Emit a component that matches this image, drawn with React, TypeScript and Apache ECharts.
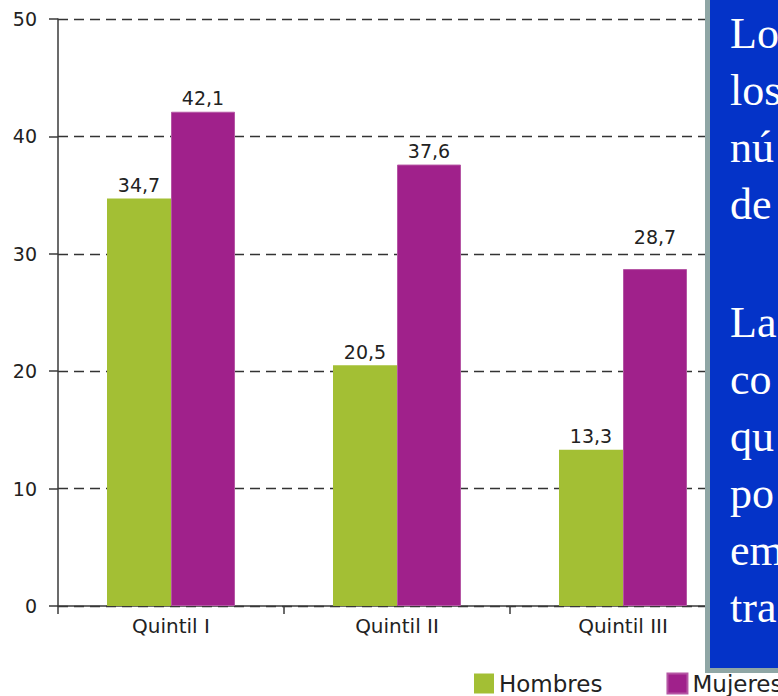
import React, { useEffect, useRef } from "react";
import * as echarts from "echarts";

const categories = ["Quintil I", "Quintil II", "Quintil III"];
const hombres = [34.7, 20.5, 13.3];
const mujeres = [42.1, 37.6, 28.7];
const seriesNames = ["Hombres", "Mujeres"];
const yMin = 0;
const yMax = 50;
const yStep = 10;
const boxParagraph1 = ["Lo", "los", "nú", "de"];
const boxParagraph2 = ["La", "co", "qu", "po", "em", "tra"];

const GREEN = "#a3bf34";
const PURPLE = "#a0218b";
const TEXT = "#222222";
const SANS = "'DejaVu Sans', Arial, sans-serif";
const SERIF = "'Liberation Serif', 'Times New Roman', serif";

const fmt = (v: number) => String(v).replace(".", ",");

export default function App() {
  const ref = useRef<HTMLDivElement>(null);
  useEffect(() => {
    if (!ref.current) return;
    const chart = echarts.init(ref.current, undefined, { renderer: "svg" });
    const lineGap = 57;
    const fs = 44;
    const mkLines = (lines: string[], firstBaseline: number) =>
      lines.map((t, i) => ({
        type: "text",
        x: 730,
        y: firstBaseline + i * lineGap - fs * 0.33,
        z: 101,
        style: {
          text: t,
          fill: "#ffffff",
          fontSize: fs,
          fontFamily: SERIF,
          verticalAlign: "middle",
          align: "left",
        },
      }));
    const labelStyle = {
      show: true,
      position: "top",
      distance: 4,
      fontSize: 19,
      color: TEXT,
      fontFamily: SANS,
      formatter: (p: any) => fmt(p.value),
    };
    // the last Mujeres label sits above the 30 gridline in the reference
    const mujeresData = mujeres.map((v, i) =>
      i === mujeres.length - 1 ? { value: v, label: { distance: 23 } } : v
    );
    chart.setOption({
      animation: false,
      grid: { left: 58, right: 42, top: 19, bottom: 90 },
      legend: {
        type: "plain",
        orient: "horizontal",
        data: seriesNames,
        left: 474,
        top: 672,
        width: 1000,
        padding: 0,
        itemWidth: 20,
        itemHeight: 20,
        itemGap: 64,
        icon: "rect",
        textStyle: { fontSize: 23, color: TEXT, fontFamily: SANS },
      },
      xAxis: {
        type: "category",
        data: categories,
        axisLine: { lineStyle: { color: "#3a3a3a", width: 1.5 } },
        axisTick: { show: true, length: 8, lineStyle: { color: "#3a3a3a", width: 1.5 } },
        axisLabel: { fontSize: 20, color: TEXT, margin: 10, fontFamily: SANS },
      },
      yAxis: {
        type: "value",
        min: yMin,
        max: yMax,
        interval: yStep,
        axisLine: { show: true, lineStyle: { color: "#3a3a3a", width: 1.5 } },
        axisTick: { show: true, length: 9, lineStyle: { color: "#3a3a3a", width: 1.5 } },
        axisLabel: { fontSize: 19, color: TEXT, margin: 21, fontFamily: SANS },
        splitLine: { show: true, lineStyle: { type: [10, 6], color: "#333333", width: 1.3 } },
      },
      series: [
        {
          name: seriesNames[0],
          type: "bar",
          data: hombres,
          barWidth: 64,
          barGap: "0%",
          itemStyle: { color: GREEN },
          label: labelStyle,
        },
        {
          name: seriesNames[1],
          type: "bar",
          data: mujeresData,
          barWidth: 64,
          barGap: "0%",
          itemStyle: { color: PURPLE, borderColor: "#b556a4", borderWidth: 1 },
          label: labelStyle,
        },
      ],
      graphic: [
        {
          type: "rect",
          z: 100,
          shape: { x: 707.5, y: -10, width: 200, height: 680.5 },
          style: { fill: "#0433c8", stroke: "#8fa6a5", lineWidth: 5 },
        },
        ...mkLines(boxParagraph1, 48),
        ...mkLines(boxParagraph2, 337),
      ],
    });
    return () => chart.dispose();
  }, []);
  return (
    <div
      ref={ref}
      style={{ position: "absolute", left: 0, top: 0, width: 778, height: 696 }}
    />
  );
}
